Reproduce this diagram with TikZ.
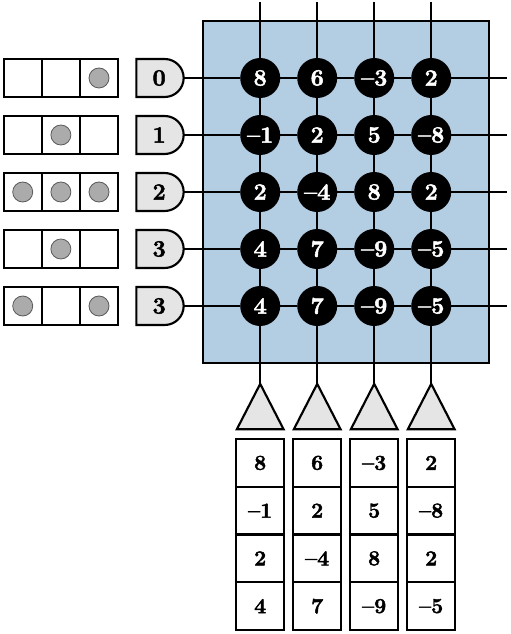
\documentclass[tikz,border=0pt]{standalone}
\usepackage{tikz}
\usepackage{xcolor}
\usepackage{fontspec}
\setmainfont{Latin Modern Roman}[BoldFeatures={FakeBold=2.2}]
\usetikzlibrary{shapes.geometric, shapes.misc, positioning}
\definecolor{PanelBlue}{HTML}{B3CDE3}
\definecolor{GateGray}{HTML}{E5E5E5}
\definecolor{DotGray}{HTML}{ABABAB}
\tikzset{
    every node/.style={outer sep=0pt, inner sep=0pt},
    % Blue background panel
    panel/.style={
        rectangle,
        draw=black,
        fill=PanelBlue,
        line width=1.6pt,
        minimum width=214.5pt,
        minimum height=257pt
    },
    % Black value cell
    cell/.style={
        circle,
        fill=black,
        text=white,
        minimum size=30pt,
        font=\fontsize{17.5}{18}\selectfont\bfseries
    },
    % Count gate
    gate/.style={
        rounded rectangle,
        rounded rectangle west arc=none,
        draw=black,
        fill=GateGray,
        line width=1.6pt,
        minimum width=35.5pt,
        minimum height=28.5pt,
        font=\fontsize{17.5}{18}\selectfont\bfseries
    },
    % Input slot
    slot/.style={
        rectangle,
        draw=black,
        fill=white,
        line width=1.6pt,
        minimum width=28.6pt,
        minimum height=28.5pt
    },
    % Input dot
    dot/.style={
        circle,
        draw=black!65,
        fill=DotGray,
        line width=0.6pt,
        minimum size=15pt
    },
    % Triangle below a column
    funnel/.style={
        isosceles triangle,
        isosceles triangle apex angle=54,
        isosceles triangle stretches,
        shape border rotate=90,
        draw=black,
        fill=GateGray,
        line width=1.6pt,
        minimum width=35pt,
        minimum height=34pt
    },
    % Output box
    stackbox/.style={
        rectangle,
        draw=black,
        fill=white,
        line width=1.6pt,
        minimum width=36pt,
        minimum height=35.8pt,
        font=\fontsize{16}{16}\selectfont\bfseries
    },
    % Connector
    link/.style={
        line width=1.6pt,
        color=black
    }
}
\begin{document}
\begin{tikzpicture}[x=0.75pt, y=-0.75pt, node distance=12.75pt]
    \useasboundingbox (0,0) rectangle (510,634);

    % Panel
    \node (panel) [panel] at (346.3,192) {};

    % Value cells
    \node (cell11) [cell] at (260.2,78) {8};
    \node (cell12) [cell, right=of cell11] {6};
    \node (cell13) [cell, right=of cell12] {--3};
    \node (cell14) [cell, right=of cell13] {2};
    \node (cell21) [cell, below=of cell11] {--1};
    \node (cell22) [cell, right=of cell21] {2};
    \node (cell23) [cell, right=of cell22] {5};
    \node (cell24) [cell, right=of cell23] {--8};
    \node (cell31) [cell, below=of cell21] {2};
    \node (cell32) [cell, right=of cell31] {--4};
    \node (cell33) [cell, right=of cell32] {8};
    \node (cell34) [cell, right=of cell33] {2};
    \node (cell41) [cell, below=of cell31] {4};
    \node (cell42) [cell, right=of cell41] {7};
    \node (cell43) [cell, right=of cell42] {--9};
    \node (cell44) [cell, right=of cell43] {--5};
    \node (cell51) [cell, below=of cell41] {4};
    \node (cell52) [cell, right=of cell51] {7};
    \node (cell53) [cell, right=of cell52] {--9};
    \node (cell54) [cell, right=of cell53] {--5};

    % Free line ends
    \coordinate [above=41.8pt of cell11] (top1);
    \coordinate [above=41.8pt of cell12] (top2);
    \coordinate [above=41.8pt of cell13] (top3);
    \coordinate [above=41.8pt of cell14] (top4);
    \coordinate [right=41.8pt of cell14] (end1);
    \coordinate [right=41.8pt of cell24] (end2);
    \coordinate [right=41.8pt of cell34] (end3);
    \coordinate [right=41.8pt of cell44] (end4);
    \coordinate [right=41.8pt of cell54] (end5);

    % Gates
    \node (gate1) [gate, left=42.4pt of cell11] {0};
    \node (gate2) [gate, left=42.4pt of cell21] {1};
    \node (gate3) [gate, left=42.4pt of cell31] {2};
    \node (gate4) [gate, left=42.4pt of cell41] {3};
    \node (gate5) [gate, left=42.4pt of cell51] {3};

    % Input slots
    \node (slot13) [slot, left=13.7pt of gate1] {};
    \node (slot12) [slot, left=0pt of slot13] {};
    \node (slot11) [slot, left=0pt of slot12] {};
    \node (slot23) [slot, left=13.7pt of gate2] {};
    \node (slot22) [slot, left=0pt of slot23] {};
    \node (slot21) [slot, left=0pt of slot22] {};
    \node (slot33) [slot, left=13.7pt of gate3] {};
    \node (slot32) [slot, left=0pt of slot33] {};
    \node (slot31) [slot, left=0pt of slot32] {};
    \node (slot43) [slot, left=13.7pt of gate4] {};
    \node (slot42) [slot, left=0pt of slot43] {};
    \node (slot41) [slot, left=0pt of slot42] {};
    \node (slot53) [slot, left=13.7pt of gate5] {};
    \node (slot52) [slot, left=0pt of slot53] {};
    \node (slot51) [slot, left=0pt of slot52] {};

    % Input dots
    \node (dot13) [dot] at (slot13) {};
    \node (dot22) [dot] at (slot22) {};
    \node (dot31) [dot] at (slot31) {};
    \node (dot32) [dot] at (slot32) {};
    \node (dot33) [dot] at (slot33) {};
    \node (dot42) [dot] at (slot42) {};
    \node (dot51) [dot] at (slot51) {};
    \node (dot53) [dot] at (slot53) {};

    % Triangles
    \node (tri1) [funnel, below=43.4pt of cell51] {};
    \node (tri2) [funnel, below=43.4pt of cell52] {};
    \node (tri3) [funnel, below=43.4pt of cell53] {};
    \node (tri4) [funnel, below=43.4pt of cell54] {};

    % Output columns
    \node (box11) [stackbox, below=7.4pt of tri1] {8};
    \node (box21) [stackbox, below=0pt of box11] {--1};
    \node (box31) [stackbox, below=0pt of box21] {2};
    \node (box41) [stackbox, below=0pt of box31] {4};
    \node (box12) [stackbox, below=7.4pt of tri2] {6};
    \node (box22) [stackbox, below=0pt of box12] {2};
    \node (box32) [stackbox, below=0pt of box22] {--4};
    \node (box42) [stackbox, below=0pt of box32] {7};
    \node (box13) [stackbox, below=7.4pt of tri3] {--3};
    \node (box23) [stackbox, below=0pt of box13] {5};
    \node (box33) [stackbox, below=0pt of box23] {8};
    \node (box43) [stackbox, below=0pt of box33] {--9};
    \node (box14) [stackbox, below=7.4pt of tri4] {2};
    \node (box24) [stackbox, below=0pt of box14] {--8};
    \node (box34) [stackbox, below=0pt of box24] {2};
    \node (box44) [stackbox, below=0pt of box34] {--5};

    % Row lines
    \draw [link] (gate1.east) -- (cell11) -- (cell12) -- (cell13) -- (cell14) -- (end1);
    \draw [link] (gate2.east) -- (cell21) -- (cell22) -- (cell23) -- (cell24) -- (end2);
    \draw [link] (gate3.east) -- (cell31) -- (cell32) -- (cell33) -- (cell34) -- (end3);
    \draw [link] (gate4.east) -- (cell41) -- (cell42) -- (cell43) -- (cell44) -- (end4);
    \draw [link] (gate5.east) -- (cell51) -- (cell52) -- (cell53) -- (cell54) -- (end5);

    % Column lines
    \draw [link] (top1) -- (cell11) -- (cell21) -- (cell31) -- (cell41) -- (cell51) -- (tri1.north);
    \draw [link] (top2) -- (cell12) -- (cell22) -- (cell32) -- (cell42) -- (cell52) -- (tri2.north);
    \draw [link] (top3) -- (cell13) -- (cell23) -- (cell33) -- (cell43) -- (cell53) -- (tri3.north);
    \draw [link] (top4) -- (cell14) -- (cell24) -- (cell34) -- (cell44) -- (cell54) -- (tri4.north);
\end{tikzpicture}
\end{document}
